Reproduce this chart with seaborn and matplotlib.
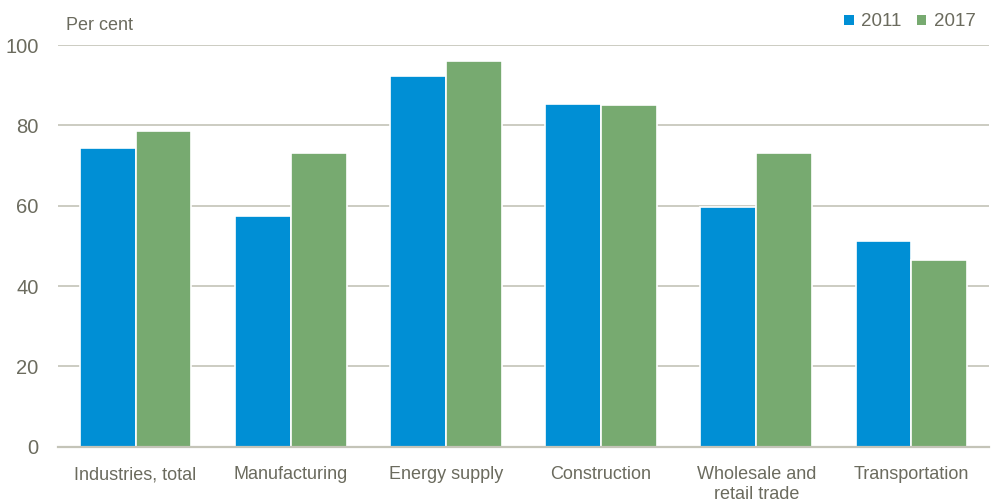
import matplotlib
matplotlib.use("Agg")
import matplotlib.pyplot as plt
from matplotlib.patches import Patch
import seaborn as sns
import pandas as pd

categories = ["Industries, total", "Manufacturing", "Energy supply",
              "Construction", "Wholesale and\nretail trade", "Transportation"]
years = ["2011", "2017"]
values_2011 = [74.3, 57.4, 92.4, 85.2, 59.7, 51.2]
values_2017 = [78.5, 73.2, 96.0, 85.0, 73.2, 46.5]
yticks = [0, 20, 40, 60, 80, 100]

colors = {"2011": "#008FD5", "2017": "#77AA70"}
text_color = "#6B6B5E"
grid_color = "#C4C4B8"

df = pd.DataFrame({
    "category": categories * 2,
    "year": [years[0]] * len(categories) + [years[1]] * len(categories),
    "value": values_2011 + values_2017,
})

sns.set_theme(style="white")
plt.rcParams["font.family"] = ["Liberation Sans", "DejaVu Sans"]

fig = plt.figure(figsize=(9.95, 5.04), dpi=100)
ax = fig.add_axes([0.0583, 0.1137, 0.9357, 0.797])

sns.barplot(data=df, x="category", y="value", hue="year", order=categories,
            hue_order=years, palette=colors, width=0.72, edgecolor="white",
            linewidth=1.2, saturation=1, ax=ax, legend=False, zorder=3)

ax.set_ylim(0, 100)
ax.set_xlim(-0.5, len(categories) - 0.5)
ax.set_yticks(yticks)
ax.set_yticklabels([str(t) for t in yticks])
ax.set_xlabel("")
ax.set_ylabel("")

ax.yaxis.grid(True, color=grid_color, linewidth=1.2, zorder=0)
ax.set_axisbelow(True)
for side in ["top", "right", "left"]:
    ax.spines[side].set_visible(False)
ax.spines["bottom"].set_color(grid_color)
ax.spines["bottom"].set_linewidth(1.6)
ax.spines["bottom"].set_zorder(4)

ax.tick_params(axis="y", length=0, pad=14, labelsize=14.5, labelcolor=text_color)
ax.tick_params(axis="x", length=0, pad=14, labelsize=13, labelcolor=text_color)
for lbl in ax.get_xticklabels():
    lbl.set_linespacing(1.25)
    lbl.set_verticalalignment("top")

fig.text(66 / 995, 1 - 25 / 504, "Per cent", fontsize=13, color=text_color,
         ha="left", va="center")

handles = [Patch(facecolor=colors[y], edgecolor="none", label=y) for y in years]
fig.legend(handles=handles, loc="center right",
           bbox_to_anchor=(983 / 995, 1 - 22 / 504), ncol=2, frameon=False,
           fontsize=13.5, handlelength=0.5, handleheight=0.5, handletextpad=0.4,
           columnspacing=0.8, labelcolor=text_color, borderaxespad=0)

fig.savefig("out.png", dpi=100)
